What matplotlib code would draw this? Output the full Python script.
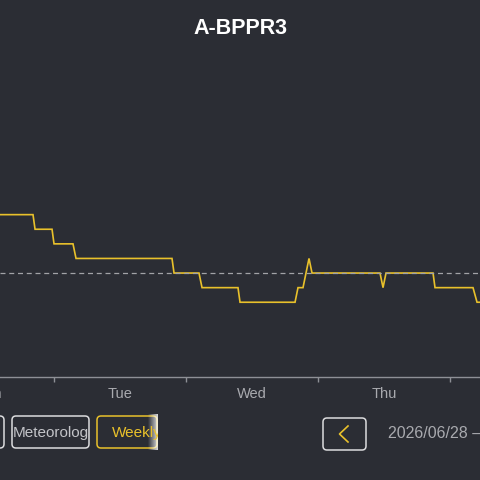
import matplotlib
matplotlib.use("Agg")
import matplotlib.pyplot as plt
from matplotlib.patches import FancyBboxPatch, Rectangle
from matplotlib.lines import Line2D
from matplotlib.transforms import blended_transform_factory

plt.rcParams['font.family'] = ['Liberation Sans', 'DejaVu Sans']

# ---- data ----
title = "A-BPPR3"
hours = [14.0, 20.18, 20.55, 23.64, 24.0, 27.45, 28.0, 45.45, 45.82, 50.36, 50.91,
         57.45, 57.82, 67.82, 68.36, 69.27, 70.36, 70.91, 83.27, 83.82, 84.36,
         92.91, 93.27, 100.18, 100.91, 102.0]
values = [1016, 1016, 1015, 1015, 1014, 1014, 1013, 1013, 1012, 1012, 1011,
          1011, 1010, 1010, 1011, 1011, 1013, 1012, 1012, 1011, 1012,
          1012, 1011, 1011, 1010, 1010]
reference = 1012
day_ticks = [24, 48, 72, 96]
day_centers = [12, 36, 60, 84]
day_labels = ["Mon", "Tue", "Wed", "Thu"]
buttons = ["", "Meteorolog", "Weekly"]
date_text = "2026/06/28 \u2013"

BG = "#2b2d34"
YEL = "#e9c12b"
GRAY = "#8e9096"
TXT = "#a9aaaf"

W = 480.0
fig = plt.figure(figsize=(4.8, 4.8), dpi=100, facecolor=BG)

def fx(px):
    return px / W

def fy(py):
    return (W - py) / W

ax = fig.add_axes([0, fy(377), 1, (377 - 45) / W])
ax.set_facecolor(BG)
ax.plot(hours, values, color=YEL, lw=1.2, solid_joinstyle='miter')
ax.axhline(reference, color="#a2a3a7", lw=0.9, dashes=(4, 3))
for s in ["top", "left", "right"]:
    ax.spines[s].set_visible(False)
ax.spines["bottom"].set_color(GRAY)
ax.spines["bottom"].set_linewidth(1.0)
ax.set_yticks([])
ax.set_xticks(day_ticks)
ax.set_xticklabels([])
ax.tick_params(axis='x', which='major', length=3.5, width=1.0, color=GRAY, direction='out')
ax.set_xlim(14.18, 101.45)
ax.set_ylim(1004.88, 1027.62)

# day labels centred on each day (drawn as text so partially visible ones show)
trans = blended_transform_factory(ax.transData, fig.transFigure)
for c, lab in zip(day_centers, day_labels):
    ax.text(c, fy(393.5), lab, transform=trans, ha='center', va='center',
            color=TXT, fontsize=10.5, clip_on=False)

fig.text(0.5, fy(29), title, ha='center', va='center', color='white',
         fontsize=15.5, fontweight='bold')

def rbox(x0, y0, x1, y1, ec, lw=1.1):
    p = FancyBboxPatch((fx(x0), fy(y1)), fx(x1) - fx(x0), fy(y0) - fy(y1),
                       boxstyle="round,pad=0,rounding_size=%f" % (4 / W),
                       transform=fig.transFigure, facecolor='none', edgecolor=ec,
                       lw=lw)
    fig.patches.append(p)
    return p

def clipped_text(x, y, s, color, x0, x1):
    t = fig.text(fx(x), fy(y), s, ha='left', va='center', color=color, fontsize=11)
    r = Rectangle((fx(x0), 0), fx(x1) - fx(x0), 1, transform=fig.transFigure)
    t.set_clip_path(r)
    return t

rbox(-40, 416, 4, 448, "#dcdcde")
rbox(12, 416, 89, 448, "#dcdcde")
clipped_text(13, 433, buttons[1], "#c3c4c8", 12, 88)
rbox(97, 416, 157, 448, YEL)
clipped_text(112, 433, buttons[2], YEL, 97, 158)

# scroll fade on the weekly button
n = 10
for i in range(n):
    a = 0.05 + 0.75 * i / (n - 1)
    fig.patches.append(Rectangle((fx(148 + i), fy(450)), 1 / W, 36 / W,
                                 transform=fig.transFigure, facecolor='white',
                                 edgecolor='none', alpha=a))

rbox(323, 418, 366, 450, "#dcdcde")
fig.lines.append(Line2D([fx(348), fx(339.5), fx(348)], [fy(426), fy(434), fy(442)],
                        transform=fig.transFigure, color=YEL, lw=1.2))

fig.text(fx(388), fy(434), date_text, ha='left', va='center', color=TXT, fontsize=11.5)

fig.savefig("out.png", dpi=100, facecolor=BG)
